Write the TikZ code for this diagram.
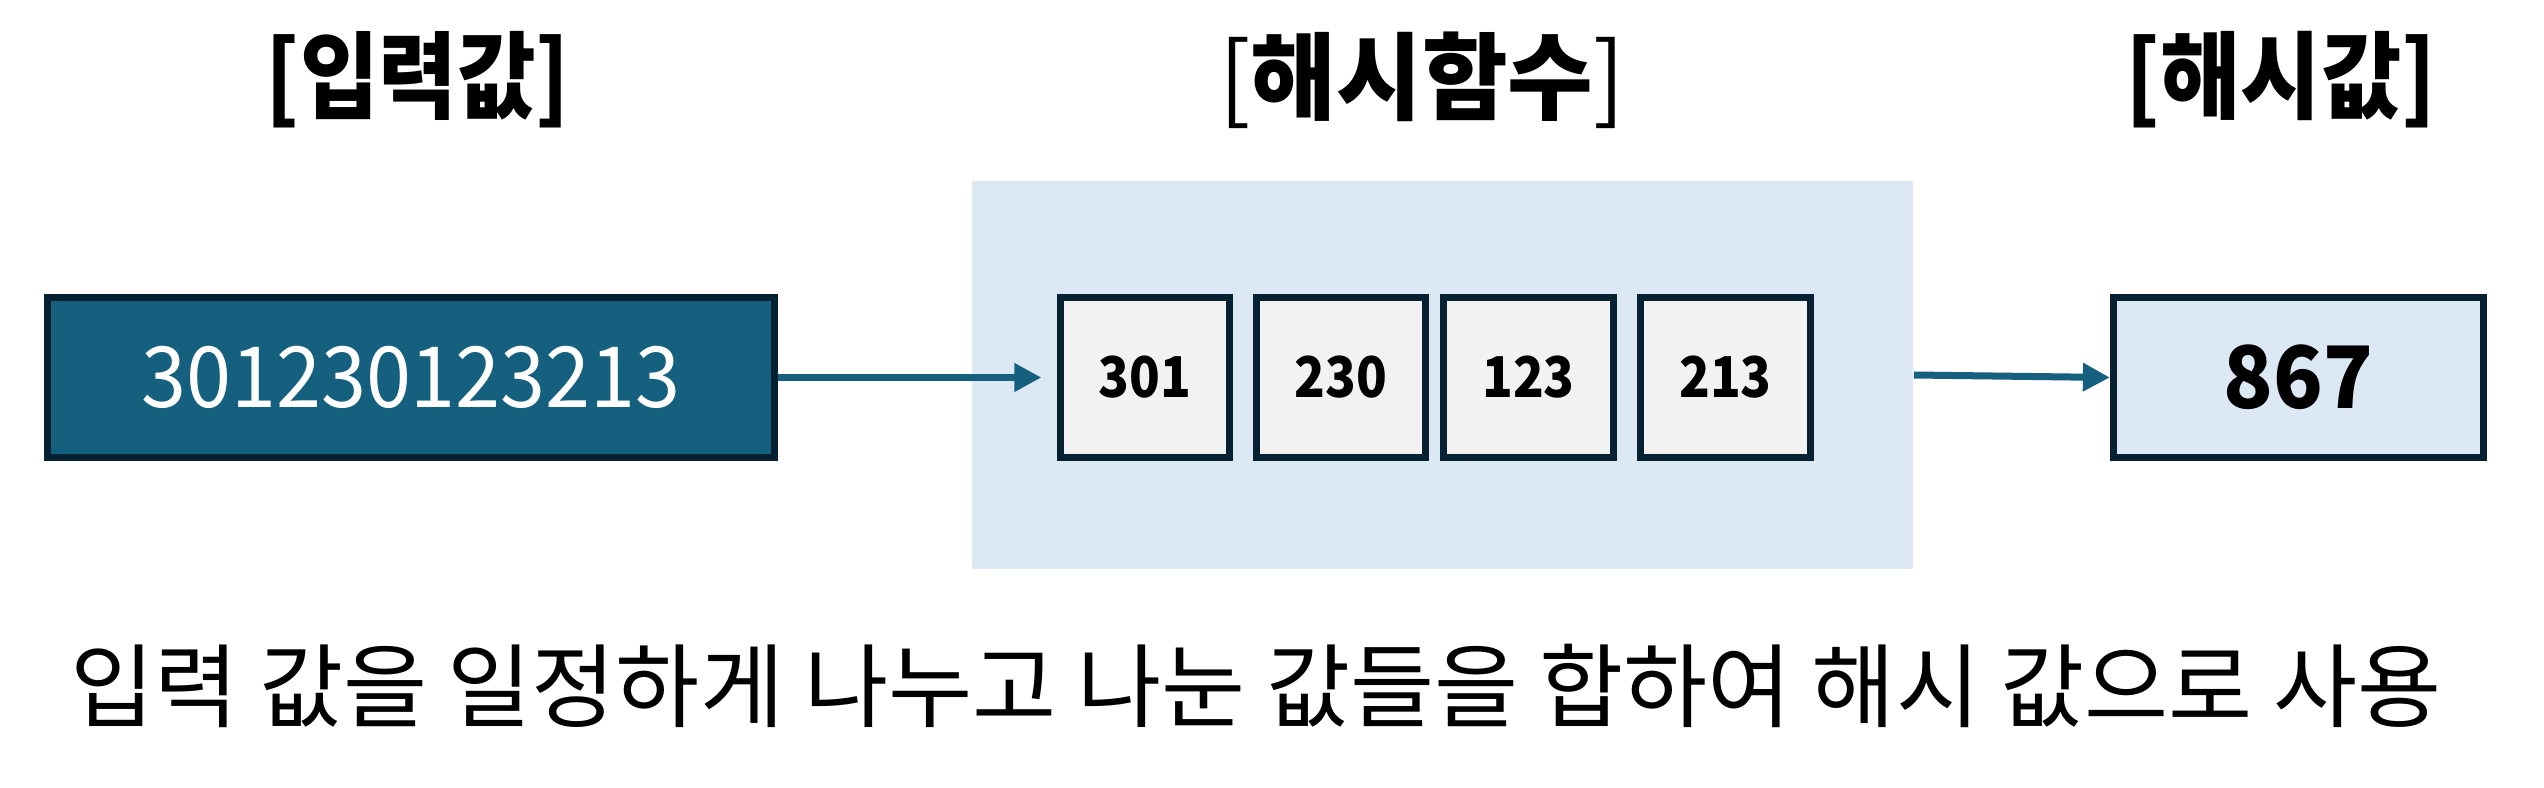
\documentclass[tikz,border=0pt]{standalone}
\usepackage{fontspec}
\setmainfont{Noto Sans CJK KR}
\usetikzlibrary{arrows.meta}
\definecolor{inblue}{HTML}{16607F}
\definecolor{dark}{HTML}{062232}
\definecolor{lightbg}{HTML}{DCE9F5}
\definecolor{cellgray}{HTML}{F2F2F2}
\tikzset{
  box/.style={draw=dark, line width=0.07cm, inner sep=0pt, minimum height=1.60cm},
  cell/.style={box, fill=cellgray, minimum width=1.69cm},
  title/.style={inner sep=0pt, font=\fontsize{27}{32}\selectfont\bfseries},
  conn/.style={draw=inblue, line width=0.07cm, -{Triangle[length=0.27cm, width=0.27cm]}},
}
\begin{document}
\begin{tikzpicture}[x=0.01cm, y=-0.01cm]
\useasboundingbox (0,0) rectangle (2544,788);
% hash function region
\node[fill=lightbg, inner sep=0pt, minimum width=9.41cm, minimum height=3.88cm] (hashfn) at (1442.5,375) {};
% titles
\node[title] (t1) at (418,80) {\scalebox{0.9}[1]{[입력값]}};
\node[title] (t2) at (1422,80) {\scalebox{0.98}[1]{{\mdseries[}해시함수{\mdseries]}}};
\node[title] (t3) at (2281,80) {\scalebox{0.92}[1]{[해시값]}};
% input
\node[box, fill=inblue, minimum width=7.26cm, text=white, font=\fontsize{24}{28}\selectfont] (inp) at (411,377.5) {\scalebox{0.96}[1]{301230123213}};
% cells
\node[cell, font=\fontsize{16}{20}\selectfont\bfseries] (b1) at (1145,377.5) {\scalebox{0.9}[1]{301}};
\node[cell, font=\fontsize{16}{20}\selectfont\bfseries] (b2) at (1341,377.5) {\scalebox{0.9}[1]{230}};
\node[cell, font=\fontsize{16}{20}\selectfont\bfseries] (b3) at (1528.5,377.5) {\scalebox{0.9}[1]{123}};
\node[cell, font=\fontsize{16}{20}\selectfont\bfseries] (b4) at (1725.5,377.5) {\scalebox{0.9}[1]{213}};
% result
\node[box, fill=lightbg, minimum width=3.70cm, font=\fontsize{24.5}{29}\selectfont\bfseries] (res) at (2298.5,377.5) {\scalebox{0.95}[1]{867}};
% connectors
\draw[conn, shorten >=0.155cm] (inp.east) -- (b1.west);
\draw[conn] (hashfn.east) -- (res.west);
% caption
\node[inner sep=0pt, font=\fontsize{26}{31}\selectfont] (cap) at (1256,686) {입력 값을 일정하게 나누고 나눈 값들을 합하여 해시 값으로 사용};
\end{tikzpicture}
\end{document}
